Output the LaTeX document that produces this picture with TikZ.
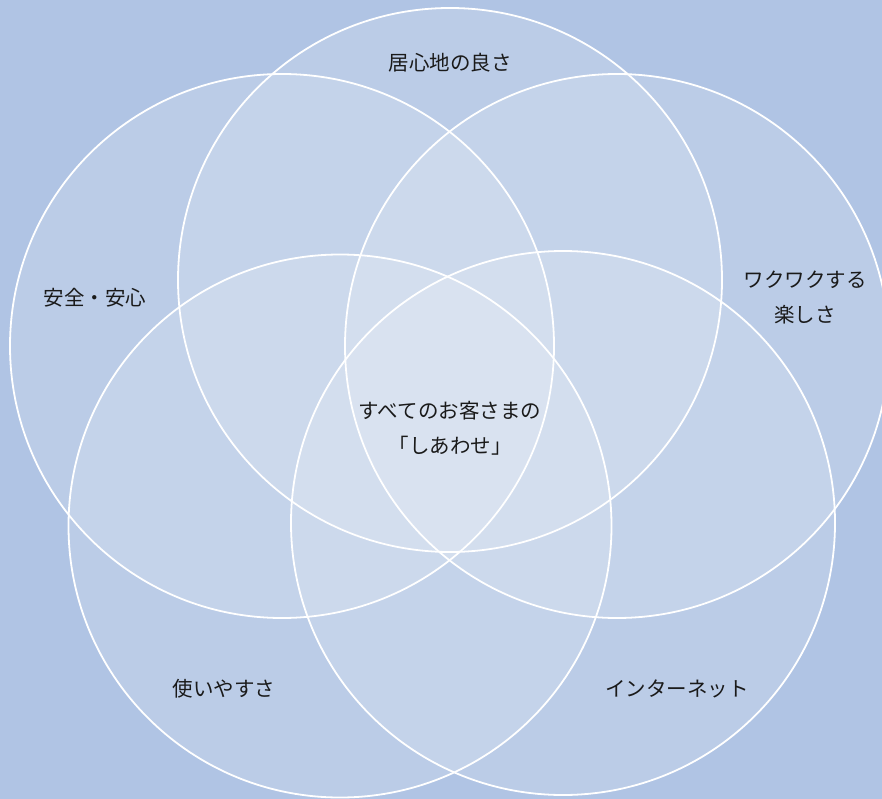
\documentclass[tikz,border=0pt]{standalone}
\usepackage{fontspec}
\newfontfamily\jpfont{Noto Sans CJK JP}
\definecolor{bgblue}{HTML}{B0C4E4}
\definecolor{txt}{HTML}{1A1A1A}
\begin{document}
\begin{tikzpicture}[x=1pt,y=-1pt,
  ring/.style={draw=white, line width=1.8pt, fill=white, fill opacity=0.14},
  lbl/.style={font=\jpfont\fontsize{20.5}{35}\selectfont, text=txt, align=center, inner sep=0pt}]
\useasboundingbox (0,0) rectangle (882,799);
\fill[bgblue] (0,0) rectangle (882,799);
\clip (0,0) rectangle (882,799);
\node[ring, circle, minimum size=544pt, inner sep=0pt] (top) at (450,280) {};
\node[ring, circle, minimum size=544pt, inner sep=0pt] (left) at (282,346) {};
\node[ring, circle, minimum size=544pt, inner sep=0pt] (right) at (617,346) {};
\node[ring, circle, minimum size=543pt, inner sep=0pt] (bl) at (340,526) {};
\node[ring, circle, minimum size=544pt, inner sep=0pt] (br) at (563,523) {};
\node[lbl] (t1) at (450,63) {居心地の良さ};
\node[lbl] (t2) at (95,298) {安全・安心};
\node[lbl] (t3) at (805,298) {ワクワクする\\楽しさ};
\node[lbl] (t4) at (450,428) {すべてのお客さまの\\「しあわせ」};
\node[lbl] (t5) at (224,689) {使いやすさ};
\node[lbl] (t6) at (677,689) {インターネット};
\end{tikzpicture}
\end{document}
